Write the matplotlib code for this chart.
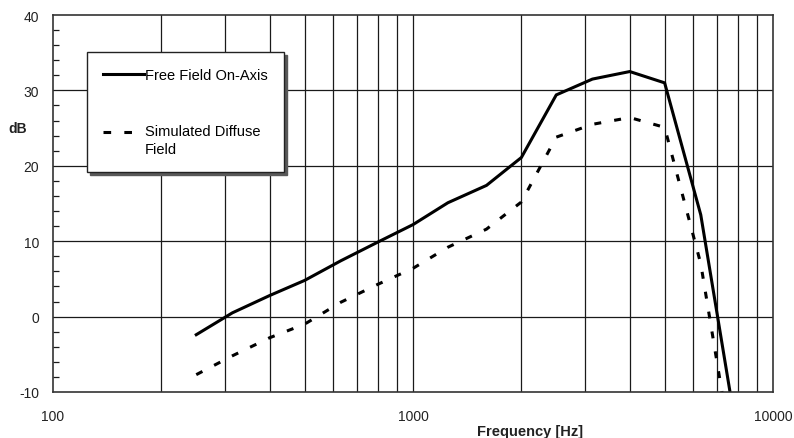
import matplotlib
matplotlib.use('Agg')
import matplotlib.pyplot as plt
from matplotlib.ticker import FixedLocator, MultipleLocator, NullFormatter, FixedFormatter
from matplotlib.legend_handler import HandlerLine2D

# one-third octave band centres [Hz]
freq = [250, 315, 400, 500, 630, 800, 1000, 1250, 1600, 2000, 2500, 3150, 4000, 5000, 6300, 8000]
free_field = [-2.4, 0.5, 2.8, 4.8, 7.4, 9.9, 12.2, 15.1, 17.4, 21.1, 29.4, 31.5, 32.5, 31.0, 13.5, -16.5]
diffuse = [-7.7, -5.2, -2.8, -1.0, 1.9, 4.3, 6.4, 9.2, 11.6, 15.2, 23.8, 25.5, 26.4, 25.1, 7.0, -23.0]

x_labels = ['100', '1000', '10000']
x_label_pos = [100, 1000, 10000]
grid_x = [200, 300, 400, 500, 600, 700, 800, 900, 1000,
          2000, 3000, 4000, 5000, 6000, 7000, 8000, 9000]


class TopLineHandler(HandlerLine2D):
    # put the legend line next to the first line of a two-line label
    def create_artists(self, legend, orig_handle, xdescent, ydescent,
                       width, height, fontsize, trans):
        artists = super().create_artists(legend, orig_handle, xdescent, ydescent - 13,
                                         width, height, fontsize, trans)
        artists[0].set_linestyle((0, (5.5, 9.5)))  # only two dashes in the key
        return artists


plt.rcParams['font.family'] = ['Liberation Sans', 'DejaVu Sans']
plt.rcParams['lines.scale_dashes'] = False
plt.rcParams['axes.unicode_minus'] = False

fig = plt.figure(figsize=(7.94, 4.39), dpi=100)
ax = fig.add_axes([53 / 794, 1 - 393 / 439, 720 / 794, 377 / 439])

ax.set_xscale('log')
ax.set_xlim(100, 10000)
ax.set_ylim(-10, 40)

# grid
for gx in grid_x:
    ax.axvline(gx, color='#1a1a1a', lw=0.9, zorder=1)
for gy in [0, 10, 20, 30]:
    ax.axhline(gy, color='#1a1a1a', lw=0.9, zorder=1)

ax.plot(freq, free_field, color='black', lw=2.2, solid_joinstyle='miter',
        label='Free Field On-Axis', zorder=3)
diff_line, = ax.plot(freq, diffuse, color='black', lw=2.2, linestyle=(0, (5, 9.5)),
                     dash_capstyle='butt', label='Simulated Diffuse\nField', zorder=3)

ax.xaxis.set_major_locator(FixedLocator(x_label_pos))
ax.xaxis.set_major_formatter(FixedFormatter(x_labels))
ax.xaxis.set_minor_locator(FixedLocator([]))
ax.xaxis.set_minor_formatter(NullFormatter())
ax.tick_params(axis='x', which='major', length=0, pad=12, labelsize=10, colors='#222222')

ax.yaxis.set_major_locator(MultipleLocator(10))
ax.yaxis.set_minor_locator(MultipleLocator(2))
ax.tick_params(axis='y', which='major', length=0, pad=10, labelsize=10, colors='#222222')
ax.tick_params(axis='y', which='minor', direction='in', length=4, width=0.9, color='#1a1a1a')

for s in ax.spines.values():
    s.set_linewidth(1.2)
    s.set_color('#333333')
    s.set_zorder(4)

ax.set_xlabel('Frequency [Hz]', fontsize=10.5, fontweight='bold', color='#222222')
ax.xaxis.set_label_coords(0.6625, -0.085)
ax.set_ylabel('dB', fontsize=10, fontweight='bold', rotation=0, color='#222222', va='center')
ax.yaxis.set_label_coords(-0.0486, 0.70)

leg = ax.legend(loc='upper left', bbox_to_anchor=(0.047, 0.902), borderaxespad=0,
                fontsize=10.5, frameon=True, fancybox=False, framealpha=1,
                edgecolor='#222222', facecolor='white', handlelength=2.8,
                handletextpad=0.1, labelspacing=2.9, borderpad=1.1,
                handler_map={diff_line: TopLineHandler()},
                shadow={'ox': 2, 'oy': -2, 'color': '0.35', 'alpha': 1})
leg.get_frame().set_linewidth(1.0)
leg.texts[1].set_linespacing(1.35)
leg.set_zorder(5)

fig.savefig('out.png', dpi=100)
